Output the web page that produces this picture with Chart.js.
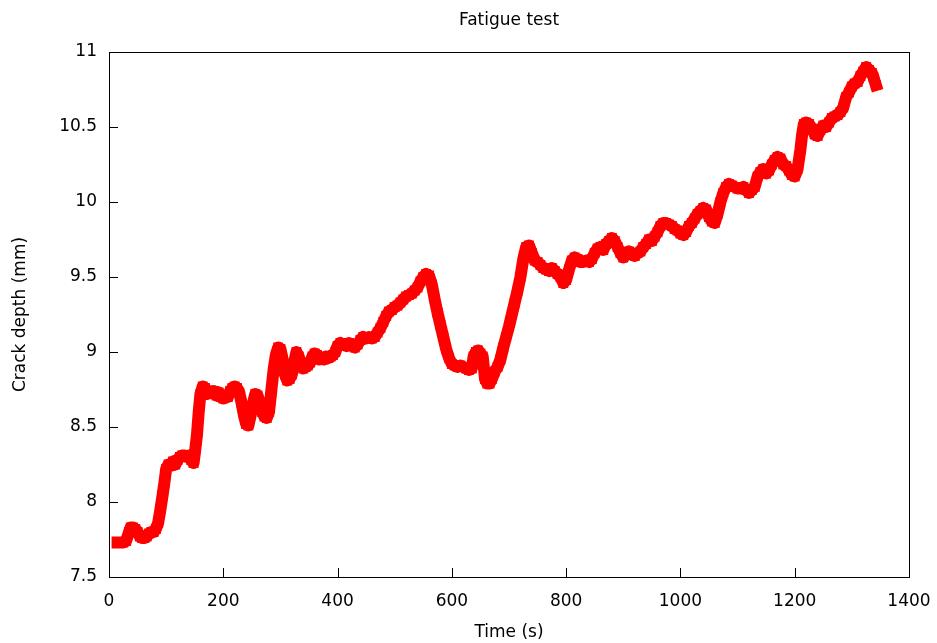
<!DOCTYPE html>
<html>
<head>
<meta charset="utf-8">
<title>Fatigue test</title>
<script src="https://cdn.jsdelivr.net/npm/chart.js@4/dist/chart.umd.min.js"></script>
<style>
  html, body { margin: 0; padding: 0; background: #ffffff; }
  #wrap { width: 937px; height: 643px; position: relative; }
</style>
</head>
<body>
<div id="wrap"><canvas id="chart"></canvas></div>
<script>
// Elapsed time of each reading, seconds
const timeSeconds = [
  15, 20, 25, 30, 35, 38, 42, 46, 50, 54, 58, 62, 66, 70, 74, 78, 82, 86, 90, 94,
  97, 100, 104, 108, 112, 116, 120, 124, 128, 132, 136, 140, 144, 148, 151, 154, 157, 160, 164, 168,
  172, 176, 180, 184, 188, 192, 196, 200, 204, 208, 212, 216, 220, 224, 228, 232, 236, 240, 244, 248,
  252, 256, 260, 264, 268, 272, 276, 280, 284, 288, 292, 296, 300, 304, 308, 312, 316, 320, 324, 328,
  332, 336, 340, 344, 348, 352, 356, 360, 364, 368, 372, 376, 380, 384, 388, 392, 396, 400, 405, 410,
  415, 420, 425, 430, 435, 440, 445, 450, 455, 460, 465, 470, 475, 480, 485, 490, 495, 500, 505, 510,
  515, 520, 525, 530, 535, 540, 545, 550, 555, 560, 565, 570, 575, 580, 585, 590, 595, 600, 605, 610,
  615, 620, 625, 630, 635, 638, 642, 646, 650, 654, 658, 662, 666, 670, 675, 680, 685, 690, 695, 700,
  705, 710, 715, 720, 725, 730, 735, 740, 745, 750, 755, 760, 765, 770, 775, 780, 785, 790, 795, 800,
  805, 810, 815, 820, 825, 830, 835, 840, 845, 850, 855, 860, 865, 870, 875, 880, 885, 890, 895, 900,
  905, 910, 915, 920, 925, 930, 935, 940, 945, 950, 955, 960, 965, 970, 975, 980, 985, 990, 995, 1000,
  1005, 1010, 1015, 1020, 1025, 1030, 1035, 1040, 1045, 1050, 1055, 1060, 1065, 1070, 1075, 1080, 1085, 1090, 1095, 1100,
  1105, 1110, 1115, 1120, 1125, 1130, 1135, 1140, 1145, 1150, 1155, 1160, 1165, 1170, 1175, 1180, 1185, 1190, 1195, 1200,
  1205, 1210, 1213, 1216, 1220, 1225, 1230, 1235, 1240, 1245, 1250, 1255, 1260, 1265, 1270, 1275, 1280, 1285, 1290, 1295,
  1300, 1305, 1310, 1315, 1320, 1325, 1330, 1335, 1338, 1342
];

// Measured crack depth at each reading, mm
const crackDepthMm = [
  7.73, 7.73, 7.73, 7.74, 7.80, 7.83, 7.83, 7.82, 7.80, 7.77, 7.76, 7.76, 7.77, 7.79, 7.80, 7.80, 7.82, 7.86, 7.95, 8.05,
  8.13, 8.22, 8.25, 8.24, 8.27, 8.25, 8.28, 8.30, 8.31, 8.31, 8.30, 8.31, 8.28, 8.26, 8.35, 8.45, 8.60, 8.72, 8.77, 8.76,
  8.72, 8.74, 8.73, 8.74, 8.71, 8.73, 8.70, 8.69, 8.71, 8.70, 8.74, 8.76, 8.77, 8.76, 8.73, 8.66, 8.58, 8.52, 8.51, 8.58,
  8.66, 8.72, 8.71, 8.66, 8.60, 8.57, 8.56, 8.60, 8.74, 8.88, 8.98, 9.03, 9.02, 8.95, 8.85, 8.81, 8.82, 8.85, 8.93, 9.00,
  8.97, 8.92, 8.89, 8.90, 8.91, 8.93, 8.97, 8.99, 8.98, 8.95, 8.96, 8.95, 8.97, 8.96, 8.97, 8.98, 9.00, 9.04, 9.06, 9.05,
  9.04, 9.06, 9.04, 9.03, 9.05, 9.08, 9.10, 9.09, 9.10, 9.09, 9.10, 9.13, 9.16, 9.20, 9.24, 9.27, 9.28, 9.30, 9.31, 9.33,
  9.35, 9.37, 9.38, 9.39, 9.41, 9.43, 9.47, 9.50, 9.52, 9.51, 9.45, 9.35, 9.26, 9.18, 9.10, 9.02, 8.96, 8.92, 8.91, 8.90,
  8.91, 8.90, 8.89, 8.88, 8.89, 8.97, 9.00, 9.01, 8.99, 8.97, 8.82, 8.79, 8.79, 8.82, 8.87, 8.90, 8.95, 9.03, 9.10, 9.17,
  9.25, 9.33, 9.41, 9.50, 9.62, 9.70, 9.71, 9.66, 9.61, 9.60, 9.58, 9.56, 9.55, 9.54, 9.56, 9.54, 9.52, 9.50, 9.46, 9.48,
  9.55, 9.61, 9.63, 9.62, 9.60, 9.60, 9.61, 9.60, 9.62, 9.66, 9.69, 9.70, 9.68, 9.72, 9.74, 9.76, 9.74, 9.70, 9.66, 9.63,
  9.65, 9.67, 9.66, 9.64, 9.66, 9.67, 9.70, 9.72, 9.75, 9.74, 9.77, 9.80, 9.84, 9.86, 9.86, 9.85, 9.84, 9.82, 9.81, 9.79,
  9.78, 9.80, 9.84, 9.86, 9.89, 9.92, 9.94, 9.96, 9.95, 9.90, 9.87, 9.86, 9.92, 10.00, 10.06, 10.10, 10.12, 10.11, 10.10, 10.09,
  10.09, 10.10, 10.08, 10.06, 10.08, 10.10, 10.17, 10.20, 10.22, 10.19, 10.21, 10.25, 10.28, 10.30, 10.29, 10.25, 10.24, 10.21, 10.18, 10.17,
  10.22, 10.35, 10.45, 10.52, 10.53, 10.52, 10.49, 10.45, 10.44, 10.48, 10.51, 10.50, 10.53, 10.56, 10.57, 10.58, 10.60, 10.63, 10.70, 10.73,
  10.77, 10.79, 10.80, 10.84, 10.87, 10.90, 10.88, 10.86, 10.83, 10.78
];

// Axis tick positions
const timeTicks = [0, 200, 400, 600, 800, 1000, 1200, 1400];
const depthTicks = [7.5, 8, 8.5, 9, 9.5, 10, 10.5, 11];

const FONT = { family: "'DejaVu Sans', sans-serif", size: 17 };
const INK = '#000000';

const points = timeSeconds.map((t, i) => ({ x: t, y: crackDepthMm[i] }));

// Frame around the plot area plus inward ticks on the left and bottom edges
const frameAndTicks = {
  id: 'frameAndTicks',
  afterDatasetsDraw(chart) {
    const { ctx, chartArea: a, scales: { x, y } } = chart;
    ctx.save();
    ctx.strokeStyle = INK;
    ctx.lineWidth = 1;
    ctx.beginPath();
    const tick = 9;
    depthTicks.forEach(v => {
      const py = Math.round(y.getPixelForValue(v)) + 0.5;
      ctx.moveTo(a.left, py);
      ctx.lineTo(a.left + tick, py);
    });
    timeTicks.forEach(v => {
      const px = Math.round(x.getPixelForValue(v)) + 0.5;
      ctx.moveTo(px, a.bottom);
      ctx.lineTo(px, a.bottom - tick);
    });
    ctx.stroke();
    ctx.strokeRect(Math.round(a.left) + 0.5, Math.round(a.top) + 0.5,
                   Math.round(a.right - a.left), Math.round(a.bottom - a.top));
    ctx.restore();
  }
};

new Chart(document.getElementById('chart'), {
  type: 'scatter',
  data: {
    datasets: [{
      label: 'Crack depth',
      data: points,
      showLine: true,
      borderColor: '#ff0000',
      backgroundColor: '#ff0000',
      borderWidth: 12,
      borderJoinStyle: 'round',
      borderCapStyle: 'square',
      pointStyle: 'rect',
      pointRadius: 7,
      pointBorderWidth: 0,
      pointHoverRadius: 7,
      tension: 0
    }]
  },
  options: {
    responsive: true,
    maintainAspectRatio: false,
    animation: false,
    events: [],
    layout: { padding: { left: 0, right: 28, top: 0, bottom: 0 } },
    plugins: {
      legend: { display: false },
      tooltip: { enabled: false },
      title: {
        display: true,
        fullSize: false,
        align: 'center',
        text: 'Fatigue test',
        color: INK,
        font: { ...FONT, weight: 'normal' },
        padding: { top: 10, bottom: 21.6 }
      }
    },
    scales: {
      x: {
        type: 'linear',
        min: 0,
        max: 1400,
        afterBuildTicks: s => { s.ticks = timeTicks.map(v => ({ value: v })); },
        afterFit: s => { s.height = 66; s.paddingLeft = 0; s.paddingRight = 0; },
        grid: { display: false, drawTicks: false },
        border: { display: false },
        ticks: {
          color: INK,
          font: FONT,
          padding: 14,
          maxRotation: 0,
          autoSkip: false,
          callback: v => String(v)
        },
        title: {
          display: true,
          text: 'Time (s)',
          color: INK,
          font: FONT,
          padding: { top: 0, bottom: 0 }
        }
      },
      y: {
        type: 'linear',
        min: 7.5,
        max: 11,
        afterBuildTicks: s => { s.ticks = depthTicks.map(v => ({ value: v })); },
        afterFit: s => { s.width = 109; s.paddingTop = 0; s.paddingBottom = 0; },
        grid: { display: false, drawTicks: false },
        border: { display: false },
        ticks: {
          color: INK,
          font: FONT,
          padding: 12,
          autoSkip: false,
          callback: v => String(v)
        },
        title: {
          display: true,
          text: 'Crack depth (mm)',
          color: INK,
          font: FONT,
          padding: { top: 10, bottom: 0 }
        }
      }
    }
  },
  plugins: [frameAndTicks]
});
</script>
</body>
</html>
